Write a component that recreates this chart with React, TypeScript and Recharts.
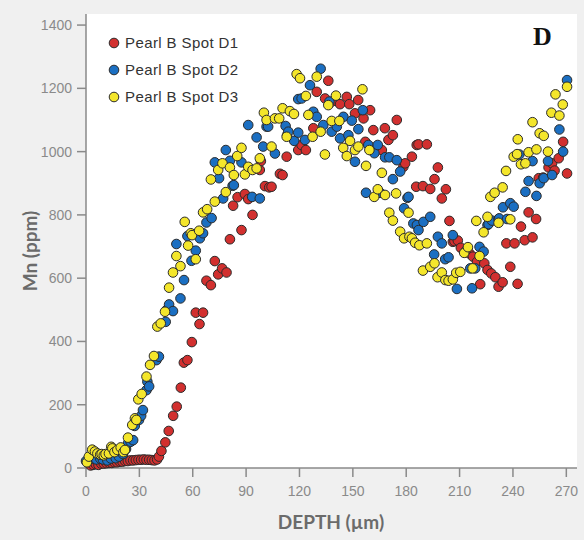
import {
  CartesianGrid,
  Legend,
  Scatter,
  ScatterChart,
  XAxis,
  YAxis,
} from "recharts";

// depth (µm), Mn (ppm)
const spotD1: [number, number][] = [
  [2.6, 8], [4, 10], [5.5, 12], [7, 10], [8.5, 14], [10, 14], [11.5, 15], [13, 16],
  [14.5, 16], [16, 18], [17.5, 18], [19, 20], [20.5, 20], [22, 22], [23.5, 22], [25, 24],
  [26.5, 24], [28, 25], [29.5, 26], [31, 26], [32.5, 27], [34, 26], [35.5, 26], [37, 25],
  [38.5, 24], [40, 27], [41, 36], [42.4, 54], [44.6, 81], [46.5, 117], [49, 165], [51, 194],
  [53.3, 254], [55, 333], [57, 341], [59.5, 398], [61.7, 491], [63.8, 455], [65.8, 491],
  [67.7, 592], [70.2, 578], [72.4, 654], [74.3, 612], [76.5, 631], [79, 618], [80.9, 723],
  [82.7, 829], [85.2, 856], [87.4, 752], [89.3, 866], [91.2, 850], [93.6, 800], [97.7, 942],
  [98.3, 970], [100.6, 891], [103, 887], [104.3, 889], [109, 930], [110.5, 926], [112.8, 984],
  [119.3, 1005], [121.2, 1021], [123.6, 1005], [127.8, 1074], [129.7, 1189], [134.4, 1168],
  [136.2, 1224], [138.1, 1158], [142.8, 1150], [146.6, 1173], [148, 1150], [151.2, 1121],
  [153, 1163], [156, 1105], [157, 1031], [159.7, 1131], [161.5, 1068], [166.3, 1005],
  [168, 1074], [170, 1037], [172.5, 1052], [174.7, 1100], [178.4, 952], [179.4, 963],
  [183.2, 984], [185.6, 889], [185.9, 1021], [186.9, 1023], [189.4, 891], [191.6, 1023],
  [193.5, 882], [195.9, 913], [197.8, 950], [200, 852], [202.3, 881], [204.3, 781],
  [206.2, 715], [207.1, 717], [209, 719], [210.7, 696], [213.2, 684], [215.6, 678],
  [217.5, 668], [219.8, 652], [221.6, 581], [223.9, 647], [225.7, 626], [227.8, 615],
  [230.1, 603], [231.9, 573], [234.2, 587], [236.3, 710], [238.5, 636], [240.9, 710],
  [242.6, 582], [244.5, 763], [246.6, 720], [248.8, 808], [251, 729], [253, 787],
  [254.5, 916], [257, 918], [260, 950], [262, 963], [263.4, 940], [265.7, 979],
  [268.2, 1031], [270.4, 931],
];

const spotD2: [number, number][] = [
  [0, 22], [2, 28], [4, 30], [5.8, 27], [8, 30], [9.5, 27], [12, 24], [14, 30], [16.7, 31],
  [18.5, 36], [20.8, 44], [22.5, 60], [23.6, 78], [25.1, 83], [26.5, 88], [27.4, 133],
  [29.8, 152], [31, 165], [32, 183], [34, 246], [34.5, 273], [35.5, 258], [39.6, 341],
  [41, 352], [44.8, 462], [45.2, 499], [46.7, 517], [48.9, 496], [50.8, 708], [53.1, 536],
  [55.1, 594], [57, 733], [59.3, 655], [61.7, 687], [64, 726], [65.8, 742], [67.7, 776],
  [70.6, 790], [72.4, 966], [74.8, 916], [77.1, 852], [78.6, 1005], [80.9, 971], [82.4, 892],
  [83.1, 894], [87.4, 966], [91.2, 1084], [93.4, 857], [95.9, 1045], [97.7, 852], [99.6, 1016],
  [101.5, 1079], [102.4, 1079], [106.2, 994], [112.2, 1081], [113, 1052], [113.7, 1063],
  [117, 1034], [119.3, 1060], [119.3, 1166], [121.2, 1168], [123.1, 1037], [125.9, 1210],
  [127.8, 1126], [129.7, 1110], [131.9, 1262], [133.4, 1084], [136.8, 1158], [138.1, 1063],
  [141, 1079], [142.8, 1042], [144.7, 1110], [147.5, 1052], [149.4, 1098], [151.2, 968],
  [153.1, 1071], [155.6, 1131], [157.4, 870], [158.7, 1021], [162.1, 995], [164, 1021],
  [165.3, 870], [168.1, 982], [170.5, 982], [172.5, 913], [174.7, 973], [176.6, 937],
  [178.8, 821], [180.7, 854], [181.3, 857], [184, 773], [186, 768], [186.9, 752], [189.7, 778],
  [193.5, 794], [195.7, 675], [197.8, 731], [200, 710], [201.9, 660], [203.8, 666],
  [206.2, 736], [208.5, 566], [216, 631], [217, 568], [218.8, 631], [221.2, 699], [223.5, 684],
  [225.7, 768], [226.3, 771], [228.2, 782], [231.9, 787], [232.3, 789], [234.4, 824],
  [236.7, 787], [238.5, 837], [240.4, 826], [243.6, 991], [247, 873], [248.8, 907], [251, 970],
  [253.2, 860], [255, 900], [257.3, 916], [259.7, 970], [262, 926], [266.1, 1070],
  [268.2, 1000], [270.4, 1226],
];

const spotD3: [number, number][] = [
  [0.5, 18], [1.6, 36], [3.5, 58], [5, 52], [6.4, 46], [8, 42], [8.8, 44], [10, 40], [11, 44],
  [12.9, 46], [14.2, 67], [14.8, 62], [16, 50], [17.6, 57], [19.5, 65], [21, 50], [21.9, 57],
  [23.6, 96], [26, 136], [27.5, 157], [28.3, 152], [29.4, 217], [31.3, 234], [34, 289],
  [36, 326], [38.2, 354], [40.1, 447], [42, 457], [44.4, 494], [46.7, 570], [48.9, 618],
  [50.8, 670], [53.1, 638], [55.5, 778], [57.4, 703], [58.9, 742], [59.6, 736], [61.7, 660],
  [63.6, 750], [65.8, 808], [68.1, 818], [70.2, 912], [72.4, 842], [74.3, 942], [76.7, 963],
  [78.6, 872], [80.9, 950], [83.1, 926], [85, 986], [87.4, 1012], [89.3, 928], [91.2, 952],
  [93.6, 942], [95.9, 947], [97.7, 979], [100, 1123], [101.5, 1100], [104.3, 1016],
  [106.2, 1105], [108.6, 1105], [110.5, 1137], [112.8, 1047], [114.6, 1128], [116.9, 1119],
  [118.4, 1245], [120.3, 1232], [123.6, 1176], [125, 1116], [127.4, 1047], [129.7, 1237],
  [131.9, 1063], [134.3, 991], [136.2, 1147], [138.1, 1097], [140.5, 1177], [142.4, 1097],
  [144.6, 1012], [146.6, 986], [148.4, 1034], [151.2, 1005], [153.1, 1016], [155.4, 1197],
  [157.4, 955], [159.3, 1005], [162, 857], [164, 881], [166.3, 933], [168.1, 863],
  [170.5, 807], [172.5, 782], [174.3, 868], [176.6, 747], [178.8, 726], [181.3, 807],
  [181.8, 731], [183.2, 726], [185, 712], [187.4, 704], [189.4, 624], [191.6, 710],
  [193.5, 636], [195.9, 647], [197.6, 603], [200, 618], [202, 594], [203.8, 592], [206.2, 596],
  [208.1, 617], [210.4, 620], [212.6, 680], [214.7, 698], [217.3, 631], [219.4, 781],
  [221.2, 670], [223.5, 745], [225.7, 794], [227.3, 857], [229.7, 870], [231.9, 775],
  [234.2, 887], [236.1, 939], [238.5, 786], [240.4, 984], [242.3, 992], [242.7, 1039],
  [244.5, 960], [247, 963], [248.8, 998], [251, 1093], [253.2, 1007], [255, 1058],
  [257.3, 1050], [259.7, 1000], [261.6, 1123], [263.9, 1181], [266.1, 1114], [268, 1149],
  [270.4, 1205],
];

const xTicks = [0, 30, 60, 90, 120, 150, 180, 210, 240, 270];
const yTicks = [0, 200, 400, 600, 800, 1000, 1200, 1400];

const series = [
  { name: "Pearl B Spot D1", color: "#d2302f", points: spotD1 },
  { name: "Pearl B Spot D2", color: "#1b6fc2", points: spotD2 },
  { name: "Pearl B Spot D3", color: "#f4e62b", points: spotD3 },
];

const toRows = (pts: [number, number][]) => pts.map(([x, y]) => ({ x, y }));

const tickFont = { fontFamily: "'Liberation Sans', Arial, sans-serif", fontSize: 14, fill: "#8a8a8a" };
const titleFont = "Lato, 'Open Sans', sans-serif";

const dot = (color: string) => (props: any) => (
  <circle cx={props.cx} cy={props.cy} r={4.8} fill={color} stroke="#2b2b2b" strokeWidth={1} />
);

const LegendBox = () => (
  <div style={{ fontFamily: "'Liberation Sans', Arial, sans-serif", fontSize: 15, color: "#333", letterSpacing: 0.4 }}>
    {series.map((s) => (
      <div key={s.name} style={{ display: "flex", alignItems: "center", height: 27 }}>
        <svg width={12} height={12} style={{ marginRight: 5 }}>
          <circle cx={6} cy={6} r={4.8} fill={s.color} stroke="#2b2b2b" strokeWidth={1} />
        </svg>
        <span>{s.name}</span>
      </div>
    ))}
  </div>
);

export default function App() {
  return (
    <div style={{ position: "relative", width: 584, height: 540, background: "#f0f0f0" }}>
      <style>{"body{margin:0;background:#f0f0f0}"}</style>
      <ScatterChart width={584} height={540} margin={{ top: 14, right: 7, bottom: 0, left: 0 }}>
        <CartesianGrid fill="#ffffff" horizontal={false} vertical={false} stroke="none" />
        <XAxis
          type="number"
          dataKey="x"
          domain={[0, 276]}
          ticks={xTicks}
          height={72}
          tickSize={9}
          tickMargin={9}
          tick={tickFont}
          axisLine={{ stroke: "#8a8a8a", strokeWidth: 1.5 }}
          tickLine={{ stroke: "#8a8a8a", strokeWidth: 1.5 }}
          label={() => (
            <text x={331} y={529} textAnchor="middle" fontFamily={titleFont} fontWeight={700} fontSize={19} fill="#6b6b6b">
              DEPTH (µm)
            </text>
          )}
        />
        <YAxis
          type="number"
          dataKey="y"
          domain={[0, 1435]}
          ticks={yTicks}
          width={86}
          tickSize={9}
          tickMargin={5}
          tick={tickFont}
          axisLine={{ stroke: "#8a8a8a", strokeWidth: 1.5 }}
          tickLine={{ stroke: "#8a8a8a", strokeWidth: 1.5 }}
          label={() => (
            <text
              x={29}
              y={251}
              transform="rotate(-90 29 251)"
              textAnchor="middle"
              dominantBaseline="central"
              fontFamily={titleFont}
              fontWeight={700}
              fontSize={19}
              fill="#6b6b6b"
            >
              Mn (ppm)
            </text>
          )}
        />
        <Legend
          layout="vertical"
          align="center"
          verticalAlign="middle"
          content={() => <LegendBox />}
          wrapperStyle={{ top: 29, left: 108, width: "auto" }}
        />
        {series.map((s) => (
          <Scatter
            key={s.name}
            name={s.name}
            data={toRows(s.points)}
            fill={s.color}
            shape={dot(s.color)}
            isAnimationActive={false}
          />
        ))}
      </ScatterChart>
      <div
        style={{
          position: "absolute",
          left: 533,
          top: 22,
          fontFamily: "'Liberation Serif', 'DejaVu Serif', serif",
          fontWeight: 700,
          fontSize: 26,
          color: "#111",
        }}
      >
        D
      </div>
    </div>
  );
}
